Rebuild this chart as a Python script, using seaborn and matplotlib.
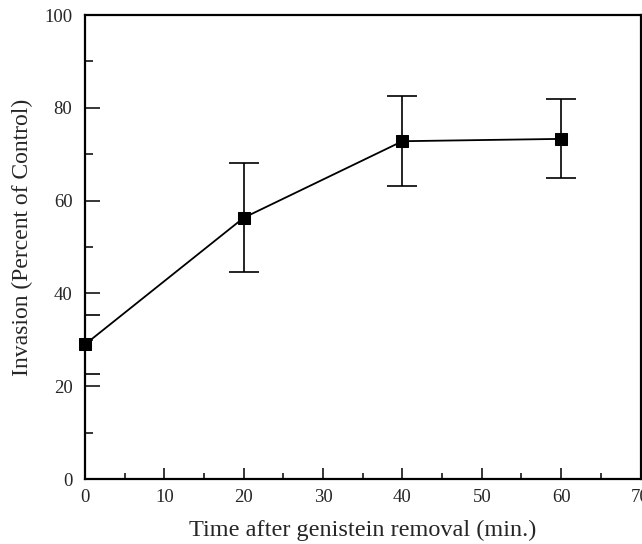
import matplotlib
matplotlib.use("Agg")
import matplotlib.pyplot as plt
from matplotlib.ticker import MultipleLocator
import seaborn as sns
import pandas as pd

time_min = [0, 20, 40, 60]
invasion = [29.0, 56.3, 72.8, 73.3]
err = [6.3, 11.7, 9.7, 8.5]

sns.set_theme(style="white")
plt.rcParams['font.family'] = ['Liberation Serif', 'DejaVu Serif']

df = pd.DataFrame({"t": time_min, "inv": invasion, "err": err})

fig = plt.figure(figsize=(6.42, 5.44), dpi=100)
ax = fig.add_axes([85/642, 65/544, 555.5/642, 464/544])

ax.errorbar(df["t"], df["inv"], yerr=df["err"], fmt="none", ecolor="black",
            elinewidth=1.2, capsize=11, capthick=1.2, zorder=2)
sns.lineplot(data=df, x="t", y="inv", ax=ax, color="black", linewidth=1.3,
             marker="s", markersize=8, markeredgecolor="black",
             markerfacecolor="black", zorder=3, clip_on=False)

ax.set_xlim(0, 70)
ax.set_ylim(0, 100)
ax.xaxis.set_major_locator(MultipleLocator(10))
ax.xaxis.set_minor_locator(MultipleLocator(5))
ax.yaxis.set_major_locator(MultipleLocator(20))
ax.yaxis.set_minor_locator(MultipleLocator(10))
ax.tick_params(axis="x", which="major", direction="in", length=8, width=1.3,
               labelsize=13.5, pad=7, bottom=True, top=False)
ax.tick_params(axis="x", which="minor", direction="in", length=4, width=1.3,
               bottom=True, top=False)
ax.tick_params(axis="y", which="major", direction="in", length=11, width=1.3,
               labelsize=13.5, pad=9, left=True, right=False)
ax.tick_params(axis="y", which="minor", direction="in", length=6, width=1.3,
               left=True, right=False)

for s in ax.spines.values():
    s.set_color("black")
    s.set_linewidth(1.6)
    s.set_visible(True)

ax.set_xlabel("Time after genistein removal (min.)", fontsize=17.5, labelpad=10)
ax.set_ylabel("Invasion (Percent of Control)", fontsize=17, labelpad=8)
ax.yaxis.label.set_y(0.52)

fig.savefig("out.png", dpi=100)
